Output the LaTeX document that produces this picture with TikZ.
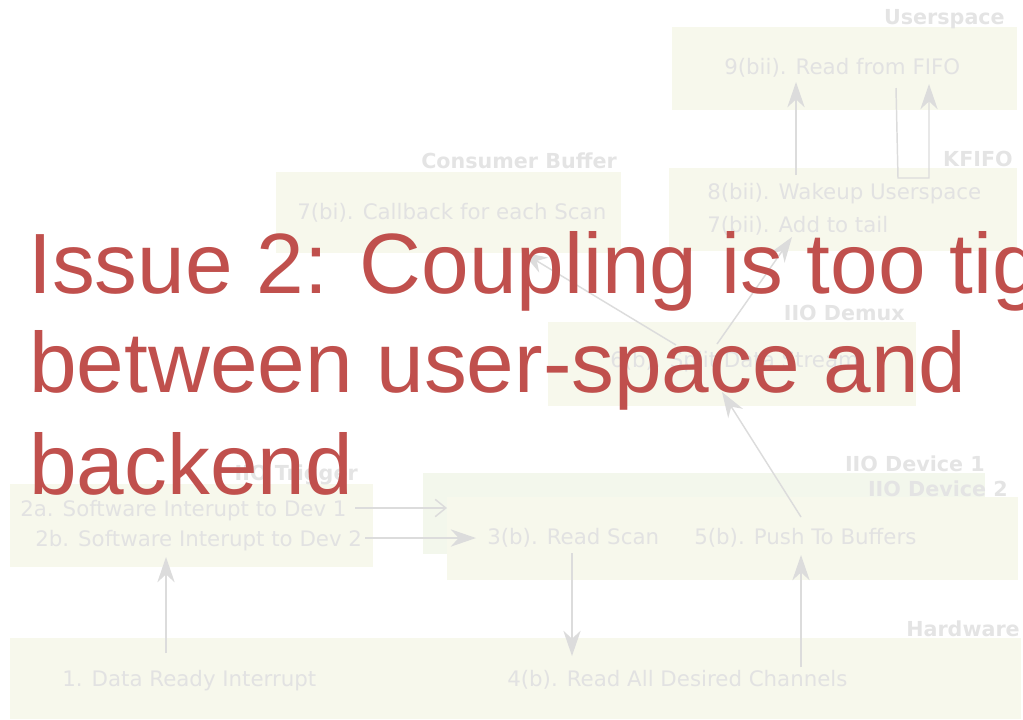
\documentclass[tikz,border=0pt]{standalone}
\usepackage{fontspec}
\setmainfont{DejaVu Sans}
\newfontfamily\issuefont{Liberation Sans}
\usetikzlibrary{arrows.meta}
\definecolor{boxfill}{HTML}{F7F8EC}
\definecolor{devfill}{HTML}{F3F7EC}
\definecolor{txtgrey}{HTML}{E2E2E2}
\definecolor{lblgrey}{HTML}{E4E4E4}
\definecolor{arrgrey}{HTML}{DCDCDC}
\definecolor{issuered}{HTML}{C0504D}
\tikzset{
  boxtxt/.style={inner sep=0pt, text=txtgrey, font=\fontsize{16}{19}\selectfont, anchor=base west},
  lbltxt/.style={inner sep=0pt, text=lblgrey, font=\bfseries\fontsize{15.5}{18}\selectfont, anchor=base east},
  conn/.style={draw=arrgrey, line width=1.1pt, -{Stealth[length=19pt,width=13pt,inset=6pt]}},
  barb/.style={draw=arrgrey, line width=1.1pt, -{Straight Barb[length=8pt,width=13pt,line width=1.1pt]}},
  plainconn/.style={draw=arrgrey, line width=1.1pt},
  issue/.style={inner sep=0pt, text=issuered, font=\issuefont\fontsize{64.2}{75}\selectfont, anchor=base west}
}
\begin{document}
\begin{tikzpicture}[x=0.75pt,y=-0.75pt]
\useasboundingbox (0,0) rectangle (1023,719);
% boxes
\fill[boxfill] (672,27) rectangle (1017,110);
\fill[boxfill] (669,168) rectangle (1017,251);
\fill[boxfill] (276,172) rectangle (621,253);
\fill[boxfill] (548,322) rectangle (916,406);
\fill[devfill] (423,473) rectangle (985,554);
\fill[boxfill] (447,497) rectangle (1018,580);
\fill[boxfill] (10,484) rectangle (373,567);
\fill[boxfill] (10,638) rectangle (1021,719);
% labels
\node[lbltxt] (lUser) at (1005,24) {Userspace};
\node[lbltxt] (lKfifo) at (1013,166) {KFIFO};
\node[lbltxt] (lCons) at (617,168) {Consumer Buffer};
\node[lbltxt] (lDemux) at (905,320) {IIO Demux};
\node[lbltxt] (lDev1) at (985,471) {IIO Device 1};
\node[lbltxt] (lDev2) at (1008,496) {IIO Device 2};
\node[lbltxt] (lTrig) at (358,480) {IIO Trigger};
\node[lbltxt] (lHw) at (1020,636) {Hardware};
% texts
\node[boxtxt] (t9) at (724,74) {9(bii). Read from FIFO};
\node[boxtxt] (t8) at (707,199) {8(bii). Wakeup Userspace};
\node[boxtxt] (t7b) at (707,232) {7(bii). Add to tail};
\node[boxtxt] (t7a) at (297,219) {7(bi). Callback for each Scan};
\node[boxtxt] (t6) at (610,367) {6(b). Split Data Stream};
\node[boxtxt] (t3) at (487,544) {3(b). Read Scan};
\node[boxtxt] (t5) at (694,544) {5(b). Push To Buffers};
\node[boxtxt] (t2a) at (20,516) {2a. Software Interupt to Dev 1};
\node[boxtxt] (t2b) at (35,546) {2b. Software Interupt to Dev 2};
\node[boxtxt] (t1) at (62,686) {1. Data Ready Interrupt};
\node[boxtxt] (t4) at (507,686) {4(b). Read All Desired Channels};
% connector end points
\coordinate (hwA) at (166,653);
\coordinate (trA) at (166,557);
\coordinate (s2a) at (355,508);
\coordinate (e2a) at (447,508);
\coordinate (s2b) at (365,538);
\coordinate (e2b) at (476,538);
\coordinate (rsA) at (572,553);
\coordinate (hwB) at (572,656);
\coordinate (hwC) at (801,667);
\coordinate (pbA) at (801,555);
\coordinate (pbB) at (801,517);
\coordinate (dmA) at (722,392);
\coordinate (dmB) at (676,345);
\coordinate (cbA) at (522,252);
\coordinate (dmC) at (717,344);
\coordinate (kfA) at (792,237);
\coordinate (kfB) at (796,175);
\coordinate (usA) at (796,82);
\coordinate (usB) at (896,88);
\coordinate (lpA) at (898,178);
\coordinate (lpB) at (929,178);
\coordinate (usC) at (929,84);
% connectors
\draw[conn] (hwA) -- (trA);
\draw[barb] (s2a) -- (e2a);
\draw[conn] (s2b) -- (e2b);
\draw[conn] (rsA) -- (hwB);
\draw[conn] (hwC) -- (pbA);
\draw[conn] (pbB) -- (dmA);
\draw[conn] (dmB) -- (cbA);
\draw[conn] (dmC) -- (kfA);
\draw[conn] (kfB) -- (usA);
\draw[conn] (usB) -- (lpA) -- (lpB) -- (usC);
% overlay title
\node[issue] (issueA) at (28,293) {Issue 2: Coupling is too tight};
\node[issue] (issueB) at (29,392) {between user-space and};
\node[issue] (issueC) at (29,494) {backend};
\end{tikzpicture}
\end{document}
